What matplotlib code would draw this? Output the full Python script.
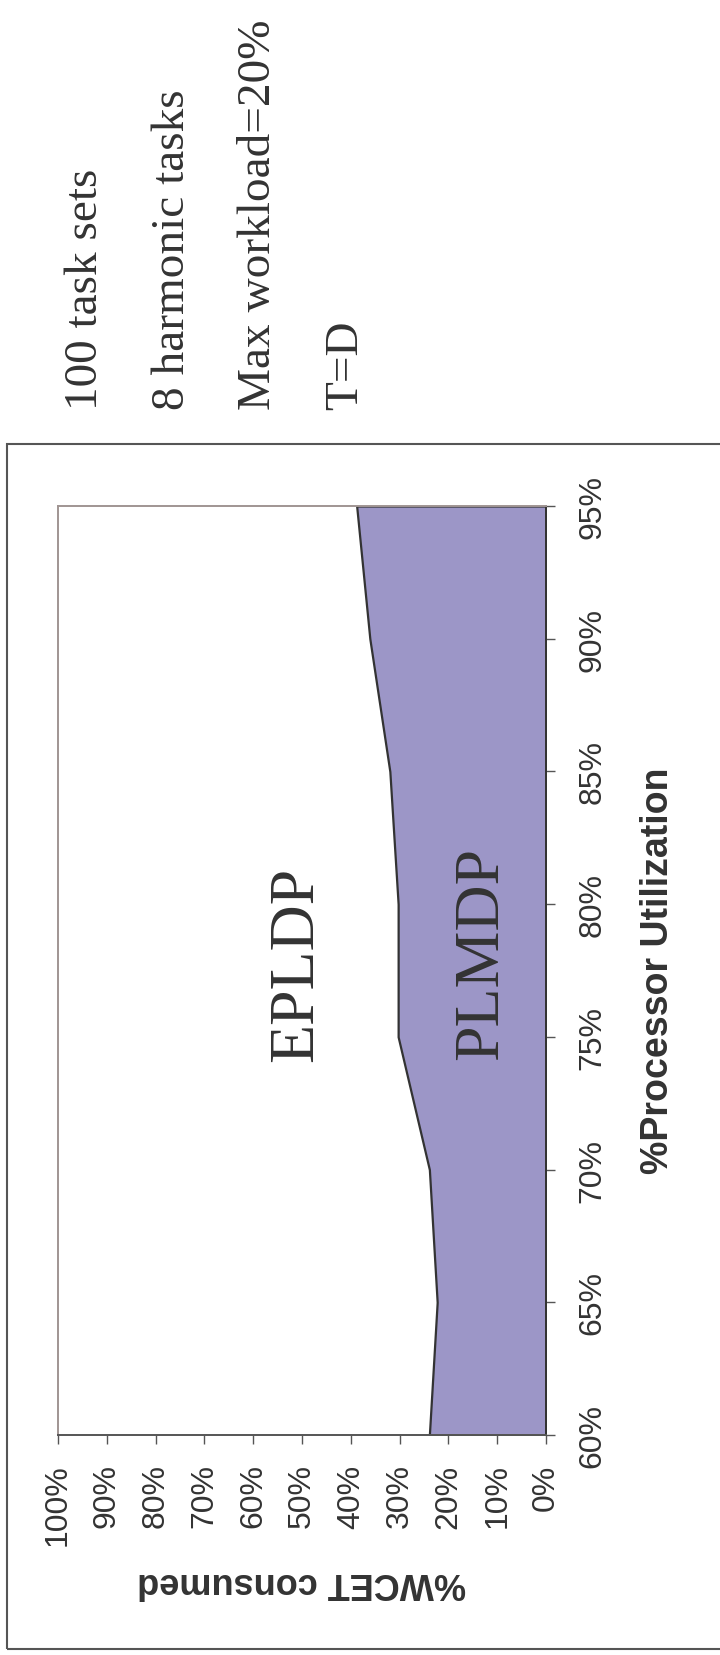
import matplotlib
matplotlib.use('Agg')
import matplotlib.pyplot as plt
from matplotlib.patches import Rectangle

# processor utilization (%) vs. share of WCET consumed by PLMDP (%)
utilization = [60, 65, 70, 75, 80, 85, 90, 95]
wcet_plmdp = [23.9, 22.3, 23.9, 30.3, 30.3, 32.0, 36.1, 38.8]
wcet_ticks = [0, 10, 20, 30, 40, 50, 60, 70, 80, 90, 100]
notes = ['100 task sets', '8 harmonic tasks', 'Max workload=20%', 'T=D']

W, H = 720, 1656
fig = plt.figure(figsize=(W / 100, H / 100), dpi=100)

def fx(px):
    return px / W

def fy(py):
    return 1 - py / H

def at(px, py):
    return fx(px), fy(py)

txt = '#333333'
sans = 'Liberation Sans'
serif = 'Liberation Serif'

# outer frame
fig.patches.append(Rectangle((fx(7), fy(1650)), fx(730) - fx(7), fy(445) - fy(1650),
                             transform=fig.transFigure, fill=False,
                             edgecolor='#555555', linewidth=1.5))

left, right, top, bottom = 58, 546, 507, 1436
ax = fig.add_axes([fx(left), fy(bottom), fx(right - left), fy(top) - fy(bottom)])

ax.fill_betweenx(utilization, 0, wcet_plmdp, facecolor='#9c96c7',
                 edgecolor='#333333', linewidth=1.6, zorder=2)

ax.set_xlim(100, 0)
ax.set_ylim(60, 95)

ax.set_xticks(wcet_ticks)
ax.set_xticklabels([f'{v}%' for v in wcet_ticks], rotation=90,
                   fontsize=23, family=sans, color=txt)
ax.set_yticks(utilization)
ax.set_yticklabels([f'{v}%' for v in utilization], rotation=90,
                   fontsize=23, family=sans, color=txt, va='center')
ax.yaxis.tick_right()
ax.tick_params(axis='x', direction='out', length=6.5, width=1, color='#555555', pad=14)
ax.tick_params(axis='y', direction='out', length=6.5, width=1, color='#555555', pad=16)

for s in ['top', 'left']:
    ax.spines[s].set_color('#a09593')
    ax.spines[s].set_linewidth(1.4)
ax.spines['right'].set_color('#333333')
ax.spines['right'].set_linewidth(1.4)
ax.spines['bottom'].set_color('#555555')
ax.spines['bottom'].set_linewidth(1.4)

# region labels
fig.text(*at(312, 964), 'EPLDP', rotation=90, rotation_mode='anchor',
         ha='center', va='baseline', fontsize=46, family=serif, color=txt)
fig.text(*at(497, 953), 'PLMDP', rotation=90, rotation_mode='anchor',
         ha='center', va='baseline', fontsize=46, family=serif, color=txt)

# axis titles
fig.text(*at(302, 1573), '%WCET consumed', rotation=180, rotation_mode='anchor',
         ha='center', va='baseline', fontsize=26, fontweight='bold', family=sans, color=txt)
fig.text(*at(668, 971), '%Processor Utilization', rotation=90, rotation_mode='anchor',
         ha='center', va='baseline', fontsize=27, fontweight='bold', family=sans, color=txt)

# experiment settings
for i, note in enumerate(notes):
    fig.text(*at(97 + 86.7 * i, 410), note, rotation=90, rotation_mode='anchor',
             ha='left', va='baseline', fontsize=34, family=serif, color=txt)

fig.savefig('out.png', dpi=100, facecolor='white')
